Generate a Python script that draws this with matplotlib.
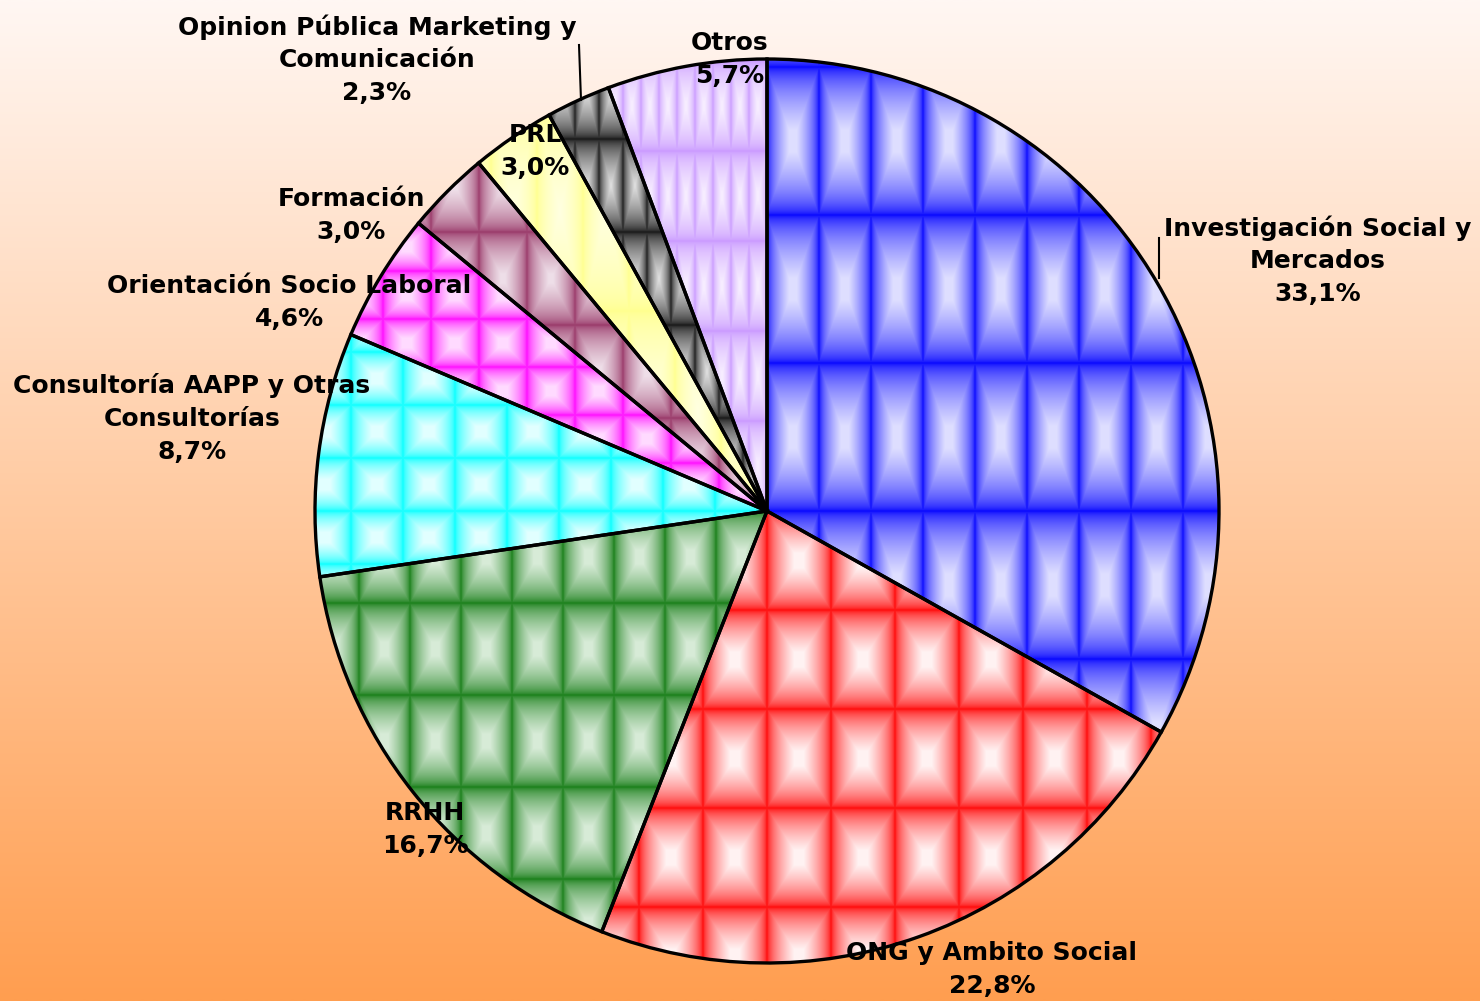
import numpy as np
import matplotlib
matplotlib.use("Agg")
import matplotlib.pyplot as plt

# datos del gráfico (porcentaje por área)
categories = [
    "Investigación Social y\nMercados",
    "ONG y Ambito Social",
    "RRHH",
    "Consultoría AAPP y Otras\nConsultorías",
    "Orientación Socio Laboral",
    "Formación",
    "PRL",
    "Opinion Pública Marketing y\nComunicación",
    "Otros",
]
shares = [33.1, 22.8, 16.7, 8.7, 4.6, 3.0, 3.0, 2.3, 5.7]

# colores base / brillo de la textura
base_colors = [(0, 0, 255), (255, 0, 0), (16, 122, 16), (0, 255, 255), (255, 0, 255),
               (150, 50, 100), (255, 255, 140), (15, 15, 15), (200, 150, 255)]
light_colors = [(222, 222, 255), (255, 242, 242), (215, 235, 215), (225, 255, 255), (255, 218, 255),
                (238, 222, 232), (255, 255, 225), (225, 225, 225), (246, 236, 255)]
cell_sizes = [(52, 148), (64, 99), (51, 92), (52, 53), (48, 48), (48, 93), (46, 200), (24, 93), (18, 90)]
spread = [0.85, 0.85, 0.85, 0.8, 0.8, 0.9, 1.0, 1.0, 0.9]

# posición de las etiquetas (px, origen arriba-izquierda)
label_pos = [(1318, 228), (992, 953), (425, 813), (192, 386), (289, 286),
             (351, 199), (535, 135), (377, 27), (730, 43)]
W, H = 1480, 1001
cx, cy, R = 767, H - 511, 452
line_h = 33

fig = plt.figure(figsize=(W / 100, H / 100), dpi=100)
ax = fig.add_axes([0, 0, 1, 1])

# fondo degradado
yy = np.linspace(0, 1, 256)[:, None]
top = np.array([255, 247, 243]) / 255
bot = np.array([255, 158, 80]) / 255
grad = top[None, None, :] * yy[:, :, None] + bot[None, None, :] * (1 - yy[:, :, None])
ax.imshow(np.repeat(grad, 2, axis=1), extent=(0, W, 0, H), origin="lower",
          aspect="auto", zorder=0, interpolation="bilinear")

wedges, _ = ax.pie(shares, startangle=90, counterclock=False, center=(cx, cy), radius=R,
                   wedgeprops=dict(edgecolor="black", linewidth=2.4))

X, Y = np.meshgrid(np.arange(W, dtype=np.float32) + 0.5, np.arange(H, dtype=np.float32) + 0.5)
for w, c0, c1, (cw, ch), sp in zip(wedges, base_colors, light_colors, cell_sizes, spread):
    u = ((X - cx) % cw) / cw * 2 - 1
    v = ((Y - cy) % ch) / ch * 2 - 1
    t = 1 - np.maximum(np.abs(u), np.abs(v))
    s = np.clip(t / sp, 0, 1) ** 0.55
    c0 = np.array(c0, dtype=np.float32) / 255
    c1 = np.array(c1, dtype=np.float32) / 255
    img = c0[None, None, :] * (1 - s[..., None]) + c1[None, None, :] * s[..., None]
    im = ax.imshow(img, extent=(0, W, 0, H), origin="lower", aspect="auto", zorder=1)
    im.set_clip_path(w)
    w.set_facecolor("none")
    w.set_zorder(3)

for name, v, (lx, ly) in zip(categories, shares, label_pos):
    lines = name.split("\n") + [f"{v:.1f}".replace(".", ",") + "%"]
    for i, txt in enumerate(lines):
        ax.text(lx, H - (ly + i * line_h), txt, ha="center", va="center",
                fontsize=18, fontweight="bold", family="DejaVu Sans", zorder=5)

# líneas guía
ax.plot([1159, 1159], [H - 238, H - 278], color="black", lw=1.5, zorder=4)
ax.plot([579, 581], [H - 45, H - 100], color="black", lw=1.5, zorder=4)

ax.set_xlim(0, W)
ax.set_ylim(0, H)
ax.axis("off")
fig.savefig("out.png", dpi=100)
